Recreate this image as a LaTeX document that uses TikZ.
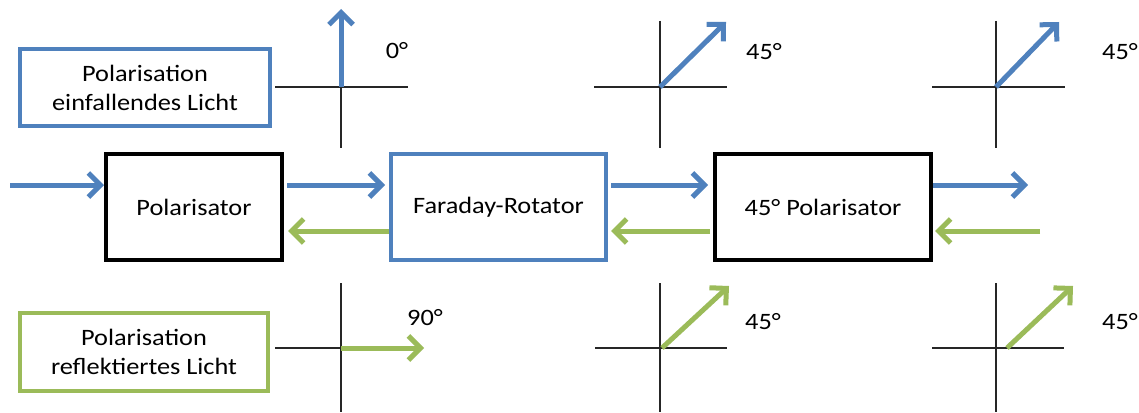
\documentclass[tikz,border=0pt]{standalone}
\usepackage{fontspec}
\setmainfont{Carlito}[FakeStretch=1.12]
\usetikzlibrary{arrows.meta}
\definecolor{oblue}{HTML}{4F81BD}
\definecolor{ogreen}{HTML}{9BBB59}
\begin{document}
\begin{tikzpicture}[x=1pt,y=-1pt,
  txt/.style={font=\fontsize{23.5}{29}\selectfont},
  box/.style={draw, line width=4pt, rectangle, align=center, inner sep=0pt, txt},
  bbox/.style={box, draw=oblue},
  kbox/.style={box, draw=black},
  gbox/.style={box, draw=ogreen},
  axis/.style={draw=black!85, line width=1.8pt},
  barrow/.style={draw=oblue, line width=5pt, -{Straight Barb[length=12pt,width=24pt]}},
  garrow/.style={draw=ogreen, line width=5pt, -{Straight Barb[length=12pt,width=24pt]}},
  lbl/.style={txt, inner sep=0pt}
]
\useasboundingbox[fill=white] (0,0) rectangle (1139,412);

% boxes
\node[bbox, minimum width=250pt, minimum height=77pt] (inbox) at (145,87.5) {Polarisation\\einfallendes Licht};
\node[kbox, minimum width=176pt, minimum height=106pt] (pol) at (194,207) {Polarisator};
\node[bbox, minimum width=215pt, minimum height=106pt] (far) at (498.5,207) {Faraday-Rotator};
\node[kbox, minimum width=216pt, minimum height=106pt] (pol45) at (823,207) {45° Polarisator};
\node[gbox, minimum width=248pt, minimum height=78pt] (refbox) at (144,352) {Polarisation\\reflektiertes Licht};

% free ends
\coordinate (inL) at (10,185);
\coordinate (outR) at (1028,185);
\coordinate (refR) at (1040,231);

% main row arrows
\draw[barrow] (inL) -- ([yshift=22pt]pol.west);
\draw[barrow, shorten <=3pt, shorten >=4pt] ([yshift=22pt]pol.east) -- ([yshift=22pt]far.west);
\draw[barrow, shorten <=3pt, shorten >=5pt] ([yshift=22pt]far.east) -- ([yshift=22pt]pol45.west);
\draw[barrow] ([yshift=22pt]pol45.east) -- (outR);
\draw[garrow, shorten >=4pt] ([yshift=-24pt]far.west) -- ([yshift=-24pt]pol.east);
\draw[garrow, shorten <=3pt, shorten >=3pt] ([yshift=-24pt]pol45.west) -- ([yshift=-24pt]far.east);
\draw[garrow, shorten >=2pt] (refR) -- ([yshift=-24pt]pol45.east);

% axes
\coordinate (o1) at (341,87);
\coordinate (o2) at (660,87);
\coordinate (o3) at (996,87);
\coordinate (o4) at (341,348);
\coordinate (o5) at (660,348);
\coordinate (o6) at (996,348);

\draw[axis] (275,87) -- (408,87) (341,87) -- (341,148);
\draw[axis] (594,87) -- (727,87) (660,21) -- (660,148);
\draw[axis] (932,87) -- (1065,87) (996,21) -- (996,148);
\draw[axis] (275,348) -- (408,348) (341,283) -- (341,412);
\draw[axis] (595,348) -- (727,348) (660,283) -- (660,412);
\draw[axis] (932,348) -- (1064,348) (996,283) -- (996,412);

\coordinate (t1) at (341,9);
\coordinate (t2) at (726,22);
\coordinate (t3) at (1059,22);
\coordinate (t4) at (424,348);
\coordinate (t5) at (729,286);
\coordinate (t6) at (1073,286);
\coordinate (s5) at (662,348);
\coordinate (s6) at (1007,348);

\draw[barrow] (o1) -- (t1);
\draw[barrow] (o2) -- (t2);
\draw[barrow] (o3) -- (t3);
\draw[garrow] (o4) -- (t4);
\draw[garrow] (s5) -- (t5);
\draw[garrow] (s6) -- (t6);

% labels
\node[lbl] (l1) at (397,51) {0°};
\node[lbl] (l2) at (764,52) {45°};
\node[lbl] (l3) at (1120,52) {45°};
\node[lbl] (l4) at (425,318) {90°};
\node[lbl] (l5) at (763,322) {45°};
\node[lbl] (l6) at (1120,322) {45°};
\end{tikzpicture}
\end{document}
